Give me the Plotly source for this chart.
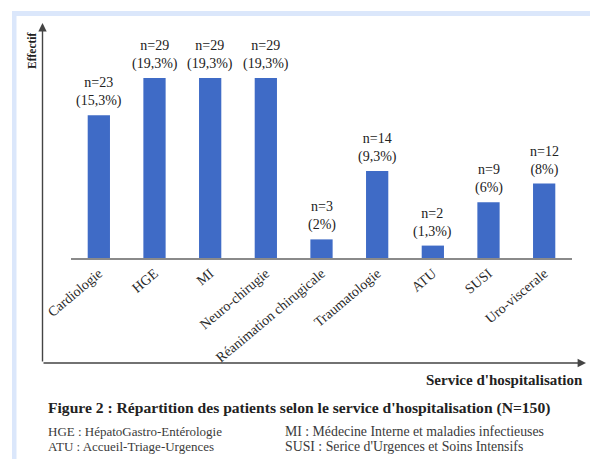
import plotly.graph_objects as go

services = ["Cardiologie", "HGE", "MI", "Neuro-chirugie", "Réanimation chirugicale",
            "Traumatologie", "ATU", "SUSI", "Uro-viscerale"]
counts = [23, 29, 29, 29, 3, 14, 2, 9, 12]
percents = ["15,3%", "19,3%", "19,3%", "19,3%", "2%", "9,3%", "1,3%", "6%", "8%"]

W, H = 590, 459
def px(x):
    return x / W
def py(y):
    return 1 - y / H

SERIF = "Liberation Serif, Times New Roman, serif"
BAR = "#3F6BC6"

fig = go.Figure()
fig.add_trace(go.Bar(
    x=services, y=counts, marker=dict(color=BAR, line=dict(width=0)),
    width=0.4, hoverinfo="skip",
))

# value labels
for s, c, p in zip(services, counts, percents):
    fig.add_annotation(x=s, y=c, xref="x", yref="y", text=f"n={c}<br>({p})",
                       showarrow=False, yanchor="bottom", xanchor="center", yshift=4,
                       font=dict(family=SERIF, size=14, color="#222"))

scale = (258 - 78) / 29.0
ytop = (258 - 23) / scale

fig.update_layout(
    template="none",
    width=W, height=H, margin=dict(l=0, r=0, t=0, b=0, pad=0, autoexpand=False),
    paper_bgcolor="white", plot_bgcolor="white", showlegend=False,
    bargap=0.6,
    xaxis=dict(domain=[px(71), px(572)], range=[-0.5, 8.5], showline=True,
               linecolor="#8a8a8a", linewidth=1.5, ticks="", tickangle=-40,
               automargin=False,
               tickfont=dict(family=SERIF, size=14, color="#2a2a2a"),
               showgrid=False, zeroline=False, fixedrange=True),
    yaxis=dict(domain=[py(258), py(23)], range=[0, ytop], visible=False,
               automargin=False,
               showgrid=False, zeroline=False, fixedrange=True),
    shapes=[
        # light blue page edges
        dict(type="rect", xref="paper", yref="paper", x0=px(12), x1=px(16.5),
             y0=0, y1=py(11), fillcolor="#dbe7fb", line=dict(width=0), layer="below"),
        dict(type="rect", xref="paper", yref="paper", x0=px(12), x1=1,
             y0=py(16), y1=py(11), fillcolor="#dbe7fb", line=dict(width=0), layer="below"),
    ],
)

# outer axes with arrows
fig.add_annotation(xref="paper", yref="paper", x=px(42.5), y=py(23), ax=0, ay=340,
                   text="", showarrow=True, arrowhead=2, arrowsize=1.2, arrowwidth=1.4,
                   arrowcolor="#444")
fig.add_annotation(xref="paper", yref="paper", x=px(586), y=py(363), ax=-544, ay=0,
                   text="", showarrow=True, arrowhead=2, arrowsize=1.2, arrowwidth=1.4,
                   arrowcolor="#444")

fig.add_annotation(xref="paper", yref="paper", x=px(32), y=py(51), text="<b>Effectif</b>",
                   textangle=-90, showarrow=False, xanchor="center", yanchor="middle",
                   font=dict(family=SERIF, size=11.5, color="#222"))
fig.add_annotation(xref="paper", yref="paper", x=px(585), y=py(380),
                   text="<b>Service d'hospitalisation</b>", xanchor="right", yanchor="middle",
                   showarrow=False, font=dict(family=SERIF, size=15, color="#222"))
fig.add_annotation(xref="paper", yref="paper", x=px(46), y=py(408),
                   text="<b>Figure 2 : Répartition des patients selon le service d'hospitalisation (N=150)</b>",
                   xanchor="left", yanchor="middle", showarrow=False,
                   font=dict(family=SERIF, size=15.6, color="#222"))
notes = [("HGE : HépatoGastro-Entérologie", 46, 431, 13),
         ("MI : Médecine Interne et maladies infectieuses", 283, 431, 13.8),
         ("ATU : Accueil-Triage-Urgences", 46, 446, 13),
         ("SUSI : Serice d'Urgences et Soins Intensifs", 283, 446, 13.8)]
for t, x, y, fs in notes:
    fig.add_annotation(xref="paper", yref="paper", x=px(x), y=py(y), text=t,
                       xanchor="left", yanchor="middle", showarrow=False,
                       font=dict(family=SERIF, size=fs, color="#3a3a3a"))

fig.write_html("out.html", config={"displayModeBar": False},
               post_script="document.body.style.margin='0';document.body.style.overflow='hidden';")
